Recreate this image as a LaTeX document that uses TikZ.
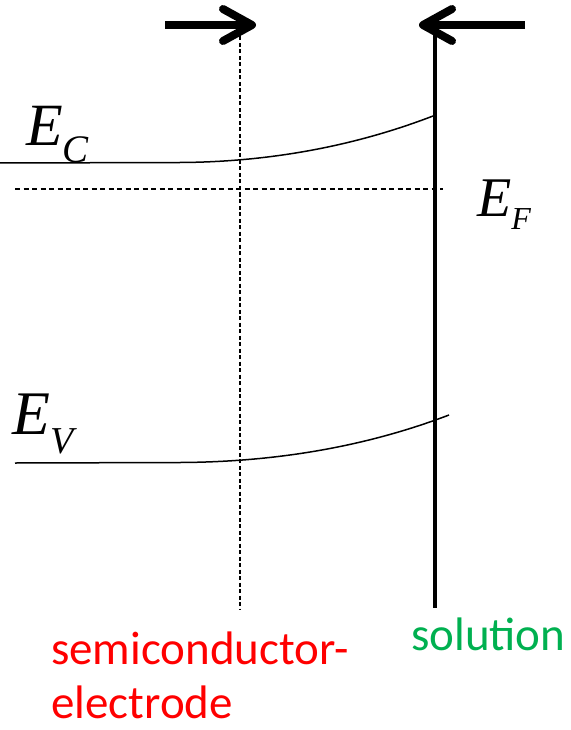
\documentclass[tikz,border=0pt]{standalone}
\usepackage{fontspec}
\setmainfont{Liberation Serif}
\newfontfamily\calib{Carlito}
\usepackage{xcolor}
\usetikzlibrary{arrows.meta, positioning}
\definecolor{semired}{RGB}{255,0,0}
\definecolor{solgreen}{RGB}{0,176,80}

\begin{document}
\begin{tikzpicture}[x=1pt, y=-1pt,
  band/.style={line width=1.5pt},
  guide/.style={line width=1.3pt, dash pattern=on 5pt off 3.5pt},
  wall/.style={line width=4.5pt},
  bigarr/.style={line width=8pt, -{Straight Barb[length=29pt, width=32pt, line cap=round, line join=round]}},
  lvl/.style={inner sep=0pt, anchor=base west},
  tag/.style={inner sep=0pt, anchor=base west, align=left,
              font=\calib\fontsize{47}{54}\selectfont}
]
\useasboundingbox (0,0) rectangle (570,730);
% key points
\coordinate (dtop) at (240,30);
\coordinate (dbot) at (240,610);
\coordinate (wtop) at (435,22);
\coordinate (wbot) at (435,608);
\coordinate (fl) at (15,189);
\coordinate (fr) at (443,189);
% energy levels
\draw[band] (0,163) -- (180,162.5) .. controls (270,162) and (355,146) .. (433,116);
\draw[band] (15,463) -- (180,462.5) .. controls (275,462) and (365,447) .. (449,415);
\draw[guide] (fl) -- (fr);
\draw[guide, dash pattern=on 4pt off 2.5pt] (dtop) -- (dbot);
\draw[wall] (wtop) -- (wbot);
% arrows on top
\coordinate (al0) at (165,25);
\coordinate (al1) at (256,25);
\coordinate (ar0) at (525,25);
\coordinate (ar1) at (419,25);
\foreach \a/\b in {al0/al1, ar0/ar1}
  \draw[bigarr] (\a) -- (\b);
% labels
\node[lvl] (ec) at (26,146) {\fontsize{60}{60}\selectfont\itshape E\fontsize{39}{39}\selectfont\raisebox{-17pt}{C}};
\node[lvl] (ef) at (477,216) {\fontsize{56}{56}\selectfont\itshape E\fontsize{32}{32}\selectfont\raisebox{-13pt}{F}};
\node[lvl] (ev) at (12,434) {\fontsize{62}{62}\selectfont\itshape E\fontsize{38}{38}\selectfont\raisebox{-19pt}{V}};
\node[tag, text=semired] (sc) at (51,718) {semiconductor-\\electrode};
\node[tag, text=solgreen] (sol) at (411,650) {solution};
\end{tikzpicture}
\end{document}
